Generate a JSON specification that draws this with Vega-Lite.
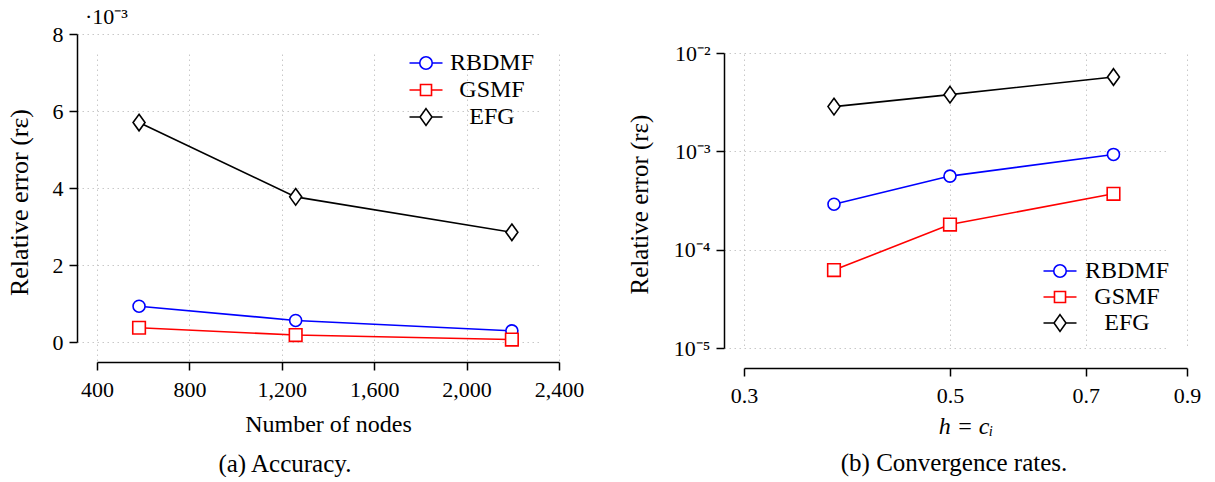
{
  "$schema": "https://vega.github.io/schema/vega-lite/v6.json",
  "background": "white",
  "padding": {"left": 6, "top": 6, "right": 0, "bottom": 0},
  "config": {
    "font": "Liberation Serif",
    "view": {"stroke": null},
    "axis": {
      "labelFont": "Liberation Serif", "titleFont": "Liberation Serif",
      "labelFontSize": 22, "titleFontSize": 24, "titleFontWeight": "normal",
      "labelColor": "black", "titleColor": "black",
      "domainColor": "black", "tickColor": "black", "domainWidth": 1.5, "tickWidth": 1.5, "tickSize": 8,
      "gridColor": "#c8c8c8", "gridDash": [1.5, 3.5], "gridWidth": 1,
      "offset": 20, "labelPadding": 6, "labelFlush": false
    },
    "axisX": {"labelPadding": 9},
    "legend": {"labelFont": "Liberation Serif", "labelColor": "black", "padding": 0},
    "title": {"font": "Liberation Serif", "fontWeight": "normal", "color": "black"}
  },
  "datasets": {
    "errs": [
      {"method": "RBDMF", "nodes": 582, "h": 0.75, "err": 0.00093},
      {"method": "RBDMF", "nodes": 1260, "h": 0.5, "err": 0.00056},
      {"method": "RBDMF", "nodes": 2196, "h": 0.375, "err": 0.00029},
      {"method": "GSMF", "nodes": 582, "h": 0.75, "err": 0.00037},
      {"method": "GSMF", "nodes": 1260, "h": 0.5, "err": 0.00018},
      {"method": "GSMF", "nodes": 2196, "h": 0.375, "err": 0.000062},
      {"method": "EFG", "nodes": 582, "h": 0.75, "err": 0.0057},
      {"method": "EFG", "nodes": 1260, "h": 0.5, "err": 0.00377},
      {"method": "EFG", "nodes": 2196, "h": 0.375, "err": 0.00285}
    ]
  },
  "resolve": {"legend": {"color": "independent"}},
  "spacing": 43,
  "hconcat": [
    {
      "title": {"text": "(a) Accuracy.", "orient": "bottom", "anchor": "middle", "fontSize": 25, "offset": 16, "dx": -10},
      "vconcat": [
        {
          "title": {"text": "·10⁻³", "anchor": "start", "frame": "group", "fontSize": 22, "offset": -6, "dx": -12},
          "width": 462, "height": 308,
          "data": {"name": "errs"},
          "encoding": {
            "x": {"field": "nodes", "type": "quantitative",
                  "scale": {"domain": [400, 2400], "nice": false, "zero": false},
                  "axis": {"values": [400, 800, 1200, 1600, 2000, 2400], "format": ",d", "title": "Number of nodes", "titlePadding": 12, "grid": true}},
            "y": {"field": "err", "type": "quantitative",
                  "scale": {"domain": [0, 0.008], "nice": false},
                  "axis": {"values": [0, 0.002, 0.004, 0.006, 0.008], "labelExpr": "format(round(datum.value*1000),'d')", "title": "Relative error (rε)", "titleFontSize": 26, "titlePadding": 20, "titleY": 168, "grid": true}},
            "color": {"field": "method", "type": "nominal",
                      "scale": {"domain": ["RBDMF", "GSMF", "EFG"], "range": ["#0000ff", "#ff0000", "#000000"]},
                      "legend": {
                        "title": null, "orient": "none", "legendX": 316, "legendY": 16,
                        "labelFontSize": 24, "labelAlign": "center", "labelOffset": 53,
                        "symbolSize": 576, "rowPadding": 2, "symbolStrokeWidth": 1.6,
                        "encode": {"symbols": {"update": {
                          "shape": {"signal": "datum.value === 'RBDMF' ? 'M-1.375,0H-0.52M0.52,0H1.375M-0.52,0A0.52,0.52,0,1,1,0.52,0A0.52,0.52,0,1,1,-0.52,0Z' : datum.value === 'GSMF' ? 'M-1.375,0H-0.46M0.46,0H1.375M-0.46,-0.46H0.46V0.46H-0.46Z' : 'M-1.375,0H-0.5M0.5,0H1.375M0,-0.7L0.5,0L0,0.7L-0.5,0Z'"},
                          "fill": {"value": "white"}, "strokeWidth": {"value": 1.6}, "opacity": {"value": 1}
                        }}}
                      }}
          },
          "layer": [
            {"mark": {"type": "line", "strokeWidth": 1.6}},
            {"mark": {"type": "point", "filled": false, "fill": "white", "size": 144, "strokeWidth": 1.6, "opacity": 1},
             "encoding": {"shape": {
               "condition": [
                 {"test": "datum.method === 'RBDMF'", "value": "M-1,0A1,1,0,1,1,1,0A1,1,0,1,1,-1,0Z"},
                 {"test": "datum.method === 'GSMF'", "value": "M-1.05,-1.05H1.05V1.05H-1.05Z"}
               ],
               "value": "M0,-1.38L1,0L0,1.38L-1,0Z"}}}
          ]
        }
      ]
    },
    {
      "title": {"text": "(b) Convergence rates.", "orient": "bottom", "anchor": "middle", "fontSize": 25, "offset": 13, "dx": 40},
      "vconcat": [
        {
          "width": 443, "height": 314,
          "data": {"name": "errs"},
          "encoding": {
            "x": {"field": "h", "type": "quantitative",
                  "scale": {"type": "log", "domain": [0.3, 0.9], "nice": false},
                  "axis": {"values": [0.3, 0.5, 0.7, 0.9], "format": ".1f", "title": "h = cᵢ", "titleFontStyle": "italic", "titlePadding": 8, "grid": true}},
            "y": {"field": "err", "type": "quantitative",
                  "scale": {"type": "log", "domain": [0.00001, 0.01], "nice": false, "range": [314, 19]},
                  "axis": {"values": [0.00001, 0.0001, 0.001, 0.01], "labelExpr": "datum.value > 0.005 ? '10⁻²' : datum.value > 0.0005 ? '10⁻³' : datum.value > 0.00005 ? '10⁻⁴' : '10⁻⁵'", "title": "Relative error (rε)", "titleFontSize": 25, "titlePadding": 21, "titleY": 170, "grid": true}},
            "color": {"field": "method", "type": "nominal",
                      "scale": {"domain": ["RBDMF", "GSMF", "EFG"], "range": ["#0000ff", "#ff0000", "#000000"]},
                      "legend": {
                        "title": null, "orient": "none", "legendX": 303, "legendY": 224,
                        "labelFontSize": 24, "labelAlign": "center", "labelOffset": 54,
                        "symbolSize": 576, "rowPadding": 1, "symbolStrokeWidth": 1.6,
                        "encode": {"symbols": {"update": {
                          "shape": {"signal": "datum.value === 'RBDMF' ? 'M-1.375,0H-0.52M0.52,0H1.375M-0.52,0A0.52,0.52,0,1,1,0.52,0A0.52,0.52,0,1,1,-0.52,0Z' : datum.value === 'GSMF' ? 'M-1.375,0H-0.46M0.46,0H1.375M-0.46,-0.46H0.46V0.46H-0.46Z' : 'M-1.375,0H-0.5M0.5,0H1.375M0,-0.7L0.5,0L0,0.7L-0.5,0Z'"},
                          "fill": {"value": "white"}, "strokeWidth": {"value": 1.6}, "opacity": {"value": 1}
                        }}}
                      }}
          },
          "layer": [
            {"mark": {"type": "line", "strokeWidth": 1.6}},
            {"mark": {"type": "point", "filled": false, "fill": "white", "size": 144, "strokeWidth": 1.6, "opacity": 1},
             "encoding": {"shape": {
               "condition": [
                 {"test": "datum.method === 'RBDMF'", "value": "M-1,0A1,1,0,1,1,1,0A1,1,0,1,1,-1,0Z"},
                 {"test": "datum.method === 'GSMF'", "value": "M-1.05,-1.05H1.05V1.05H-1.05Z"}
               ],
               "value": "M0,-1.38L1,0L0,1.38L-1,0Z"}}}
          ]
        }
      ]
    }
  ]
}
